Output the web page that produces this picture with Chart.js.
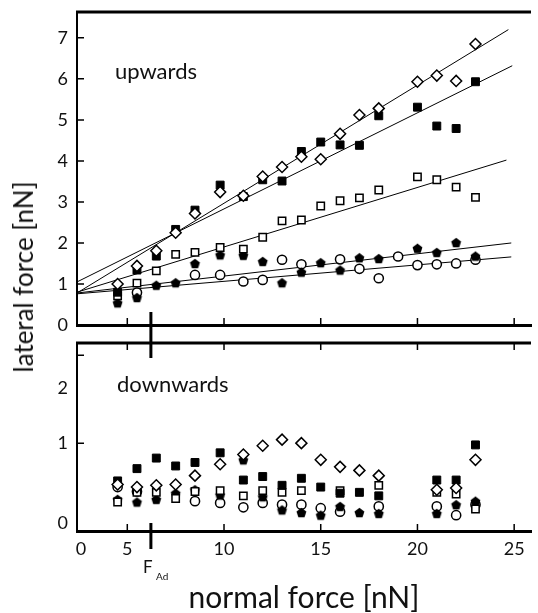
<!DOCTYPE html>
<html>
<head>
<meta charset="utf-8">
<script src="https://cdn.jsdelivr.net/npm/chart.js@4"></script>
<style>
  body { margin: 0; background: #fff; }
  #wrap { position: relative; width: 538px; height: 613px; overflow: hidden; }
  canvas { position: absolute; left: 0; }
  #upChart { top: 0; }
  #downChart { top: 334px; }
  #yTitle {
    position: absolute; left: 23px; top: 277px;
    transform: translate(-50%, -50%) rotate(-90deg);
    font: 26px Lato; line-height: 1; white-space: nowrap; color: #111;
  }
</style>
</head>
<body>
<div id="wrap">
  <canvas id="upChart" width="538" height="334"></canvas>
  <canvas id="downChart" width="538" height="279"></canvas>
  <div id="yTitle">lateral force [nN]</div>
</div>
<script>
// axes
let xTicks = [5, 10, 15, 20, 25];
let xLabelTicks = [2.6, 5, 10, 15, 20, 25];
let xLabels = ["0", "5", "10", "15", "20", "25"];
let upYTicks = [0, 1, 2, 3, 4, 5, 6, 7];
let downYTicks = [1, 2];
let downYLabelTicks = [0.09, 1, 1.62];
let downYLabels = ["0", "1", "2"];
let fAd = 6.22;

// upwards (top panel)
let upDiamondX = [4.5, 5.5, 6.5, 7.5, 8.5, 9.8, 11, 12, 13, 14, 15, 16, 17, 18, 20, 21, 22, 23];
let upDiamondY = [1.0, 1.44, 1.81, 2.25, 2.72, 3.24, 3.15, 3.62, 3.85, 4.1, 4.04, 4.66, 5.12, 5.28, 5.93, 6.08, 5.95, 6.85];
let upSquareX = [4.5, 5.5, 6.5, 7.5, 8.5, 9.8, 11, 12, 13, 14, 15, 16, 17, 18, 20, 21, 22, 23];
let upSquareY = [0.8, 1.34, 1.68, 2.33, 2.8, 3.41, 3.13, 3.54, 3.51, 4.23, 4.46, 4.39, 4.38, 5.1, 5.31, 4.85, 4.79, 5.93];
let upOpenSquareX = [4.5, 5.5, 6.5, 7.5, 8.5, 9.8, 11, 12, 13, 14, 15, 16, 17, 18, 20, 21, 22, 23];
let upOpenSquareY = [0.71, 1.02, 1.32, 1.72, 1.77, 1.89, 1.85, 2.14, 2.54, 2.56, 2.9, 3.03, 3.1, 3.29, 3.61, 3.54, 3.36, 3.11];
let upPentagonX = [4.5, 5.5, 6.5, 7.5, 8.5, 9.8, 11, 12, 13, 14, 15, 16, 17, 18, 20, 21, 22, 23];
let upPentagonY = [0.54, 0.67, 0.97, 1.03, 1.5, 1.71, 1.7, 1.55, 1.03, 1.29, 1.52, 1.34, 1.64, 1.62, 1.87, 1.77, 2.01, 1.68];
let upCircleX = [5.5, 8.5, 9.8, 11, 12, 13, 14, 16, 17, 18, 19, 20, 21, 22, 23];
let upCircleY = [0.79, 1.22, 1.22, 1.06, 1.1, 1.59, 1.48, 1.6, 1.37, 1.14, 1.67, 1.46, 1.48, 1.5, 1.59];

// linear fits (diamond, square, open square, pentagon, circle)
let fitStartX = [2.4, 2.4, 2.4, 2.4, 2.4];
let fitStartY = [0.78, 1.05, 0.8, 0.78, 0.76];
let fitEndX = [24.7, 24.9, 24.6, 24.85, 24.85];
let fitEndY = [7.2, 6.32, 4.02, 2.0, 1.66];

// downwards (bottom panel)
let downDiamondX = [4.5, 5.5, 6.5, 7.5, 8.5, 9.8, 11, 12, 13, 14, 15, 16, 17, 18, 21, 22, 23];
let downDiamondY = [0.53, 0.5, 0.52, 0.53, 0.63, 0.76, 0.87, 0.97, 1.04, 1.0, 0.81, 0.73, 0.69, 0.63, 0.47, 0.49, 0.81];
let downSquareX = [4.5, 5.5, 6.5, 7.5, 8.5, 9.8, 11, 12, 13, 14, 15, 16, 17, 18, 21, 22, 23];
let downSquareY = [0.57, 0.71, 0.83, 0.74, 0.78, 0.89, 0.58, 0.62, 0.52, 0.6, 0.5, 0.43, 0.44, 0.4, 0.58, 0.58, 0.98];
let downOpenSquareX = [4.5, 5.5, 6.5, 7.5, 8.5, 9.8, 11, 12, 13, 14, 16, 18, 21, 22, 23];
let downOpenSquareY = [0.33, 0.44, 0.44, 0.37, 0.45, 0.46, 0.4, 0.46, 0.44, 0.46, 0.46, 0.52, 0.44, 0.42, 0.25];
let downPentagonX = [4.5, 5.5, 6.5, 7.5, 8.5, 9.8, 11, 12, 13, 14, 15, 16, 17, 18, 21, 22, 23];
let downPentagonY = [0.36, 0.33, 0.36, 0.43, 0.47, 0.41, 0.81, 0.39, 0.24, 0.21, 0.18, 0.28, 0.21, 0.2, 0.2, 0.3, 0.34];
let downCircleX = [4.5, 5.5, 8.5, 9.8, 11, 12, 13, 14, 15, 16, 18, 21, 22, 23];
let downCircleY = [0.5, 0.45, 0.34, 0.32, 0.27, 0.32, 0.3, 0.3, 0.26, 0.22, 0.28, 0.28, 0.18, 0.3];

let font = "Lato";

function pts(xs, ys) {
  return xs.map((x, i) => ({ x: x, y: ys[i] }));
}

function makePentagon(r) {
  let c = document.createElement("canvas");
  let s = Math.ceil(r * 2 + 2);
  c.width = s;
  c.height = s;
  let g = c.getContext("2d");
  g.beginPath();
  for (let i = 0; i < 5; i++) {
    let a = -Math.PI / 2 + (i * 2 * Math.PI) / 5;
    let px = s / 2 + r * Math.cos(a);
    let py = s / 2 + r * Math.sin(a) + r * 0.1;
    if (i === 0) g.moveTo(px, py);
    else g.lineTo(px, py);
  }
  g.closePath();
  g.fillStyle = "#000";
  g.fill();
  return c;
}
let pentagon = makePentagon(5.2);

function markerSets(d) {
  return [
    { data: pts(d[0], d[1]), pointStyle: "rectRot", pointRadius: 5.5, backgroundColor: "#fff", borderColor: "#000", borderWidth: 1.5 },
    { data: pts(d[2], d[3]), pointStyle: "rect", pointRadius: 5.6, backgroundColor: "#000", borderColor: "#000", borderWidth: 1 },
    { data: pts(d[4], d[5]), pointStyle: "rect", pointRadius: 5.2, backgroundColor: "#fff", borderColor: "#000", borderWidth: 1.5 },
    { data: pts(d[6], d[7]), pointStyle: pentagon, pointRadius: 5 },
    { data: pts(d[8], d[9]), pointStyle: "circle", pointRadius: 4.6, backgroundColor: "#fff", borderColor: "#000", borderWidth: 1.5 },
  ];
}

let fitLines = fitStartX.map((x0, i) => ({
  data: [{ x: x0, y: fitStartY[i] }, { x: fitEndX[i], y: fitEndY[i] }],
  showLine: true,
  pointRadius: 0,
  borderColor: "#000",
  borderWidth: 1,
}));

// no extra room for end labels, the plot area is set by the fixed axis sizes
function noPadding(s) {
  s.paddingTop = 0;
  s.paddingBottom = 0;
  s.paddingLeft = 0;
  s.paddingRight = 0;
}

// frame, inward ticks, F_Ad marker and panel texts
let frame = {
  id: "frame",
  afterDraw(chart, args, opts) {
    let c = chart.ctx;
    let a = chart.chartArea;
    let xs = chart.scales.x;
    let ys = chart.scales.y;
    c.save();
    c.strokeStyle = "#000";
    c.lineWidth = 3;
    c.beginPath();
    c.moveTo(a.left - 1, a.top);
    c.lineTo(a.right, a.top);
    c.stroke();

    c.lineWidth = 1.5;
    c.beginPath();
    xTicks.forEach((v) => {
      let px = xs.getPixelForValue(v);
      c.moveTo(px, a.bottom);
      c.lineTo(px, a.bottom - 7);
      if (opts.topTicks) {
        c.moveTo(px, a.top);
        c.lineTo(px, a.top + 7);
      }
    });
    opts.yTicks.forEach((v) => {
      let py = ys.getPixelForValue(v);
      c.moveTo(a.left, py);
      c.lineTo(a.left + 7, py);
    });
    c.stroke();

    c.lineWidth = 3;
    c.beginPath();
    let fx = xs.getPixelForValue(fAd);
    opts.marks.forEach((m) => {
      c.moveTo(fx, m[0]);
      c.lineTo(fx, m[1]);
    });
    c.stroke();

    c.fillStyle = "#111";
    c.textBaseline = "alphabetic";
    opts.texts.forEach((t) => {
      c.font = t.size + "px " + font;
      c.fillText(t.text, t.x, t.y);
    });
    c.restore();
  },
};

function options(yMax, labelTicks, labels, frameOpts, padTop, xAxis) {
  return {
    responsive: false,
    animation: false,
    layout: { padding: { top: padTop, left: 0, right: 0, bottom: 0 } },
    plugins: {
      legend: { display: false },
      tooltip: { enabled: false },
      frame: frameOpts,
    },
    scales: {
      x: xAxis,
      y: {
        type: "linear",
        min: 0,
        max: yMax,
        grid: { display: false, drawTicks: false },
        border: { display: true, width: 2, color: "#000" },
        ticks: {
          color: "#111",
          font: { family: font, size: 18 },
          padding: 9,
          callback: (v, i) => labels[i],
        },
        afterBuildTicks: (s) => {
          s.ticks = labelTicks.map((v) => ({ value: v }));
        },
        afterFit: (s) => {
          s.width = 77;
          noPadding(s);
        },
      },
    },
  };
}

let upCtx = document.getElementById("upChart").getContext("2d");
let upChart = new Chart(upCtx, {
  type: "scatter",
  data: {
    datasets: markerSets([
      upDiamondX, upDiamondY, upSquareX, upSquareY, upOpenSquareX, upOpenSquareY,
      upPentagonX, upPentagonY, upCircleX, upCircleY,
    ]).concat(fitLines),
  },
  options: options(
    7.63,
    upYTicks,
    upYTicks.map(String),
    {
      topTicks: false,
      yTicks: upYTicks,
      marks: [[312, 334]],
      texts: [{ text: "upwards", x: 115, y: 79, size: 22 }],
    },
    12,
    {
      type: "linear",
      min: 2.4,
      max: 25.87,
      grid: { display: false, drawTicks: false },
      border: { display: true, width: 3, color: "#000" },
      ticks: { display: false },
      afterFit: (s) => {
        s.height = 9;
        noPadding(s);
      },
    }
  ),
  plugins: [frame],
});

let downCtx = document.getElementById("downChart").getContext("2d");
let downChart = new Chart(downCtx, {
  type: "scatter",
  data: {
    datasets: markerSets([
      downDiamondX, downDiamondY, downSquareX, downSquareY, downOpenSquareX, downOpenSquareY,
      downPentagonX, downPentagonY, downCircleX, downCircleY,
    ]),
  },
  options: options(
    2.14,
    downYLabelTicks,
    downYLabels,
    {
      topTicks: true,
      yTicks: downYTicks,
      marks: [[0, 24], [189, 215]],
      texts: [
        { text: "downwards", x: 117, y: 58, size: 22 },
        { text: "F", x: 143, y: 239, size: 17 },
        { text: "Ad", x: 156, y: 246, size: 10 },
      ],
    },
    9,
    {
      type: "linear",
      min: 2.4,
      max: 25.87,
      grid: { display: false, drawTicks: false },
      border: { display: true, width: 3, color: "#000" },
      ticks: {
        color: "#111",
        font: { family: font, size: 18 },
        padding: 7,
        autoSkip: false,
        maxRotation: 0,
        callback: (v, i) => xLabels[i],
      },
      title: {
        display: true,
        text: "normal force [nN]",
        color: "#111",
        font: { family: font, size: 30, lineHeight: 1 },
        padding: { top: 0, bottom: 0 },
      },
      afterBuildTicks: (s) => {
        s.ticks = xLabelTicks.map((v) => ({ value: v }));
      },
      afterFit: (s) => {
        s.height = 82;
        noPadding(s);
      },
    }
  ),
  plugins: [frame],
});
</script>
</body>
</html>
